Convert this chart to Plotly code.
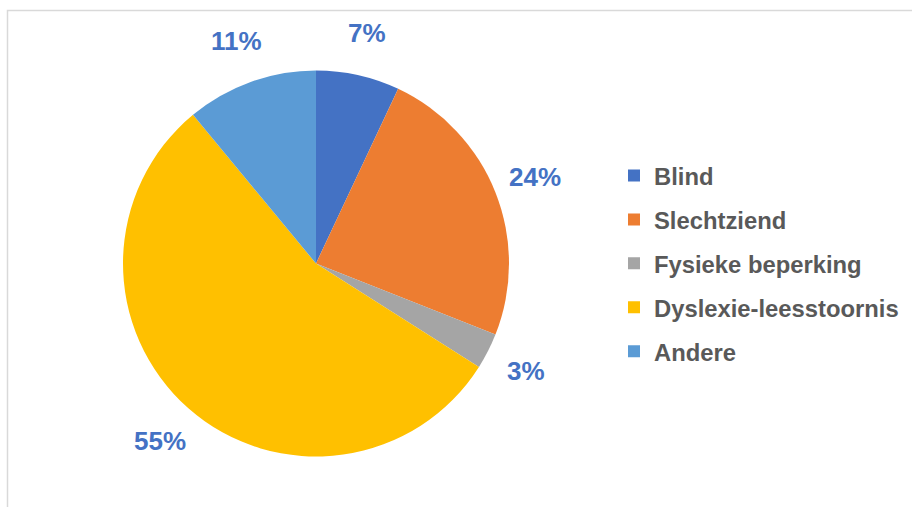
import math
import plotly.graph_objects as go

categories = ["Blind", "Slechtziend", "Fysieke beperking", "Dyslexie-leesstoornis", "Andere"]
values = [7, 24, 3, 55, 11]
colors = ["#4472C4", "#ED7D31", "#A5A5A5", "#FFC000", "#5B9BD5"]

W, H = 912, 507
cx, cy, R = 316, 263.5, 193          # pie centre / radius in px (from top-left)
label_r = 236                         # distance of percentage labels from centre

fig = go.Figure()

fig.add_trace(go.Pie(
    labels=categories, values=values, sort=False, direction="clockwise", rotation=0,
    marker=dict(colors=colors, line=dict(width=0)),
    textinfo="none", showlegend=False, hoverinfo="label+percent",
    domain=dict(x=[(cx - R) / W, (cx + R) / W], y=[(H - cy - R) / H, (H - cy + R) / H]),
))

# legend entries (one group each so vertical spacing can be set)
for i, (cat, col) in enumerate(zip(categories, colors)):
    fig.add_trace(go.Scatter(
        x=[None], y=[None], mode="markers", name=f"<b>{cat}</b>", legendgroup=f"g{i}",
        marker=dict(symbol="square", size=12, color=col), showlegend=True,
    ))

# percentage labels placed outside the slices, derived from the values
total = sum(values)
cum = 0
for v in values:
    mid = (cum + v / 2) / total * 2 * math.pi
    cum += v
    px = cx + label_r * math.sin(mid)
    py = cy - label_r * math.cos(mid)
    fig.add_annotation(
        x=px / W, y=(H - py) / H, xref="paper", yref="paper",
        text=f"<b>{round(v / total * 100)}%</b>", showarrow=False,
        font=dict(family="Liberation Sans, Arial, sans-serif", size=26, color="#4472C4"),
        xanchor="center", yanchor="middle",
    )

fig.add_shape(type="rect", xref="paper", yref="paper",
              x0=7.5 / W, x1=(W + 2) / W, y0=-5 / H, y1=(H - 10.5) / H,
              line=dict(color="#D9D9D9", width=1.5), fillcolor="rgba(0,0,0,0)", layer="below")

fig.update_layout(
    width=W, height=H,
    margin=dict(l=0, r=0, t=0, b=0),
    paper_bgcolor="white", plot_bgcolor="white",
    xaxis=dict(visible=False), yaxis=dict(visible=False),
    legend=dict(
        x=(655 - 41) / W, xanchor="left", y=(H - 263.5) / H, yanchor="middle",
        font=dict(family="Liberation Sans, Arial, sans-serif", size=23.8, color="#595959"),
        tracegroupgap=10, bgcolor="rgba(0,0,0,0)", itemclick=False, itemdoubleclick=False,
    ),
    font=dict(family="Liberation Sans, Arial, sans-serif"),
)

fig.write_html("out.html", config={"displayModeBar": False},
               post_script="document.body.style.margin='0';")
